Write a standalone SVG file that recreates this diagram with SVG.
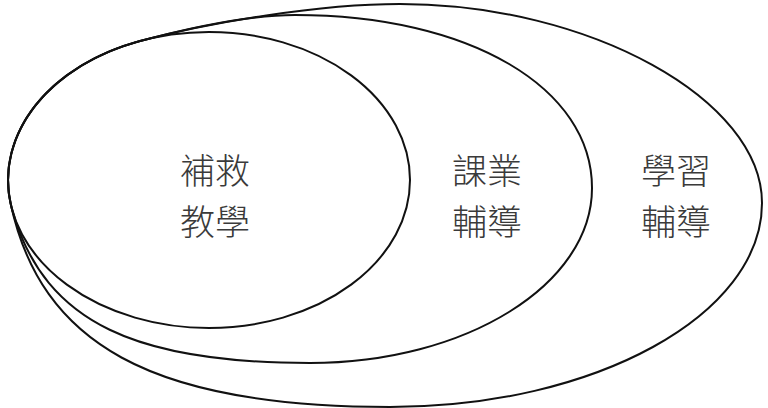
<svg xmlns="http://www.w3.org/2000/svg" width="768" height="408" viewBox="0 0 768 408">
<style>
.e{fill:none;stroke:#111;stroke-width:2}
.t{font-family:"Noto Sans CJK TC","Noto Sans CJK SC",sans-serif;font-size:35px;fill:#3a3a3a;text-anchor:middle;font-weight:300}
</style>
<rect width="768" height="408" fill="#fff"/>
<g id="outer">
<path class="e" d="M10.5,203 A201,148 0 0 1 140,41 C210,22.2 320,4 400,4 C590,4 762,100 762,203 C762,315 595,407 390,407 C150,407 40.4,343 10.5,203 Z"/>
<text class="t" x="676" y="184">學習</text><text class="t" x="676" y="235">輔導</text></g>
<g id="middle">
<path class="e" d="M12.5,211 A201,148 0 0 1 140,41 C195,26.2 250,15 295,15 C470,15 592,88 592,188 C592,284.7 465.7,363 310,363 C140,363 45,325 12.5,211 Z"/>
<text class="t" x="487" y="184">課業</text><text class="t" x="487" y="235">輔導</text></g>
<g id="inner"><ellipse class="e" cx="209" cy="180" rx="201" ry="148"/>
<text class="t" x="215" y="184">補救</text><text class="t" x="215" y="235">教學</text></g>
<g id="connectors"/>
</svg>
